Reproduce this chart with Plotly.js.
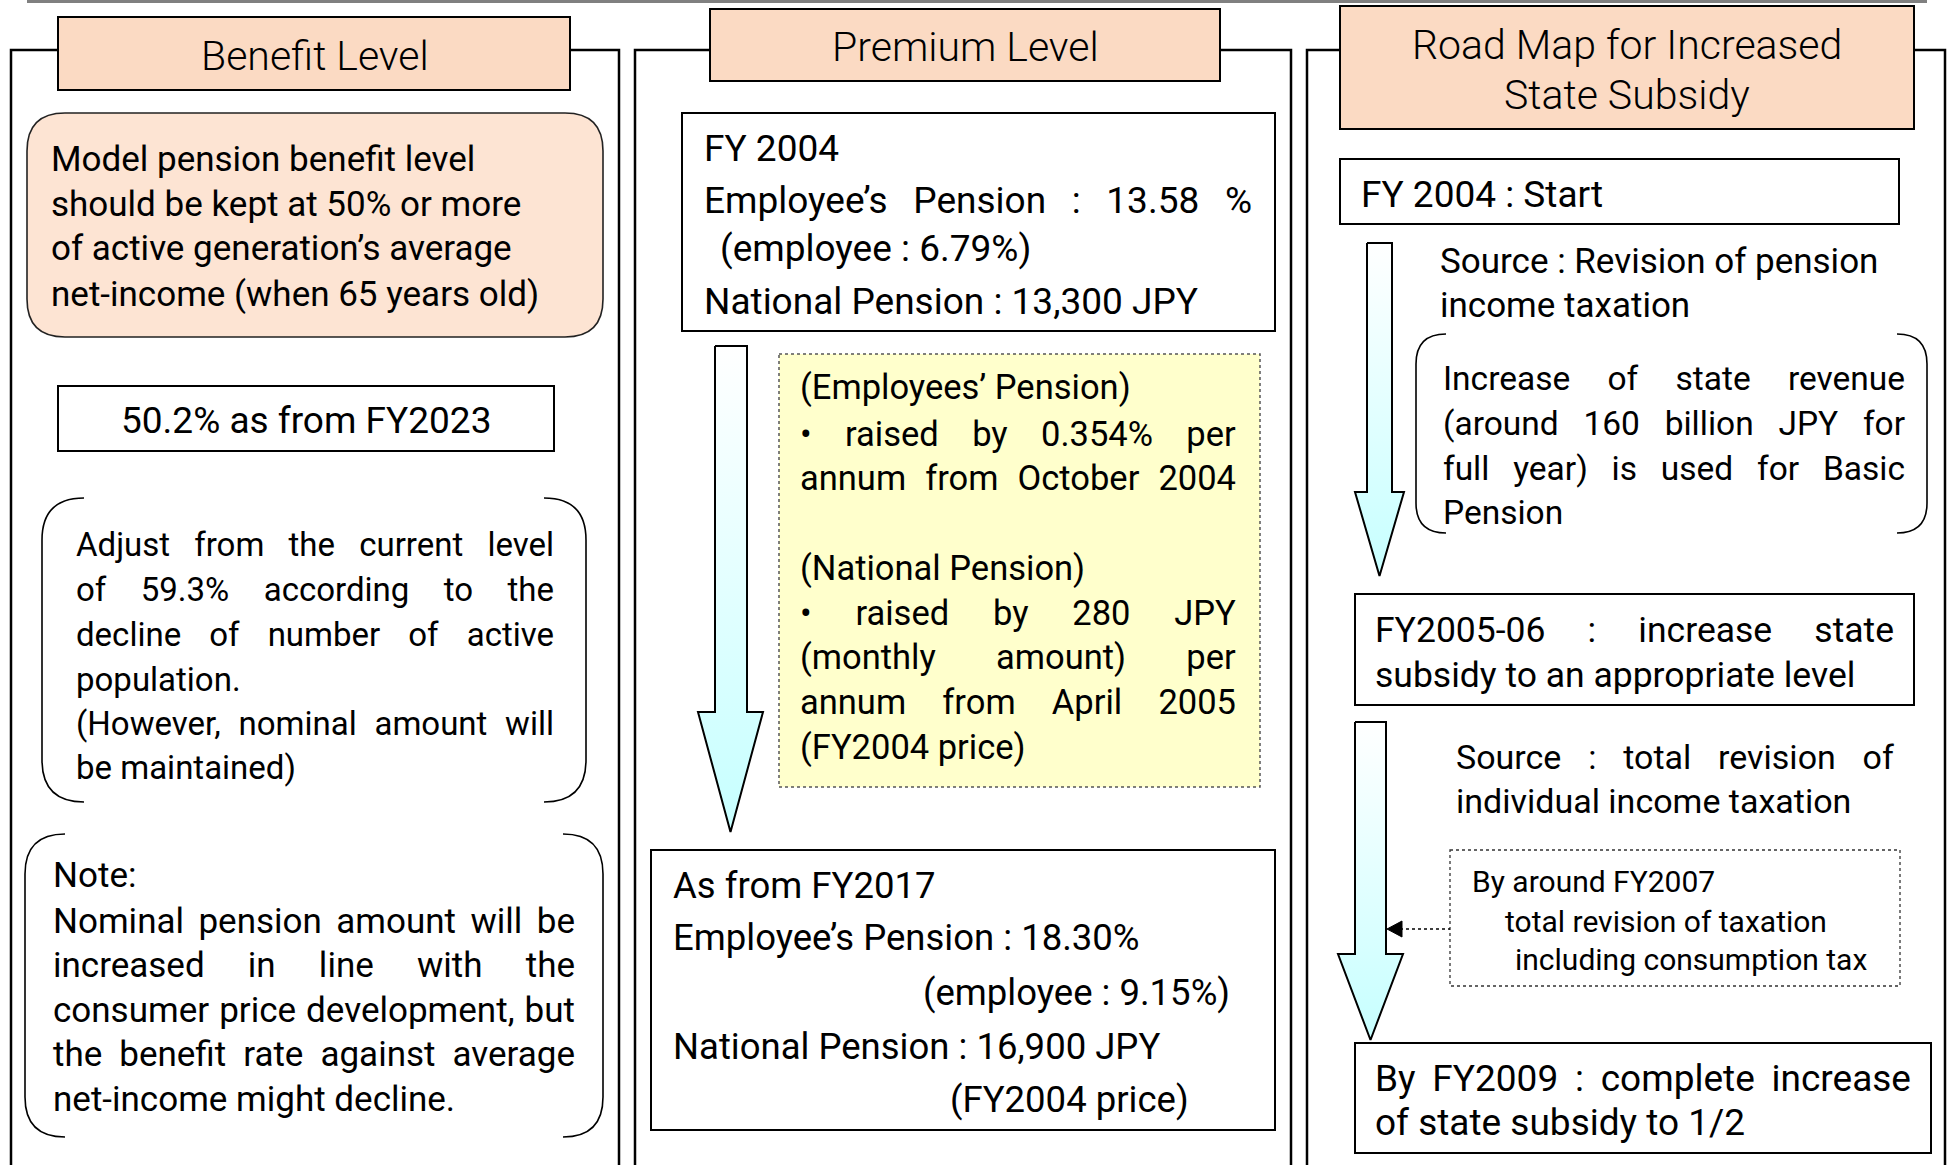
<!DOCTYPE html>
<html><head><meta charset="utf-8">
<script src="https://cdn.plot.ly/plotly-3.0.1.min.js"></script>
<style>html,body{margin:0;padding:0;background:#fff;}#chart{width:1952px;height:1165px;}</style>
</head><body><div id="chart"></div>
<script>
// ---- Text content ----
const columnTitles = ["Benefit Level", "Premium Level", "Road Map for Increased", "State Subsidy"];
const benefitGoal = ["Model pension benefit level", "should be kept at 50% or more", "of active generation’s average", "net-income (when 65 years old)"];
const benefitTarget = ["50.2% as from FY2023"];
const benefitAdjust = ["Adjust from the current level", "of 59.3% according to the", "decline of number of active", "population.", "(However, nominal amount will", "be maintained)"];
const benefitNote = ["Note:", "Nominal pension amount will be", "increased in line with the", "consumer price development, but", "the benefit rate against average", "net-income might decline."];
const premium2004 = ["FY 2004", "Employee’s Pension : 13.58 %", "(employee : 6.79%)", "National Pension : 13,300 JPY"];
const premiumSteps = ["(Employees’ Pension)", "• raised by 0.354% per", "annum from October 2004", "(National Pension)", "• raised by 280 JPY", "(monthly amount) per", "annum from April 2005", "(FY2004 price)"];
const premium2017 = ["As from FY2017", "Employee’s Pension : 18.30%", "(employee : 9.15%)", "National Pension : 16,900 JPY", "(FY2004 price)"];
const roadStart = ["FY 2004 : Start"];
const roadSource1 = ["Source : Revision of pension", "income taxation"];
const roadRevenue = ["Increase of state revenue", "(around 160 billion JPY for", "full year) is used for Basic", "Pension"];
const road0506 = ["FY2005-06 : increase state", "subsidy to an appropriate level"];
const roadSource2 = ["Source : total revision of", "individual income taxation"];
const roadTax = ["By around FY2007", "total revision of taxation", "including consumption tax"];
const road2009 = ["By FY2009 : complete increase", "of state subsidy to 1/2"];

// ---- Layout geometry (pixel space) ----
const FONT = 'Roboto, "Liberation Sans", sans-serif';
const PEACH = '#FBDAC3', PEACH2 = '#FDE4D3', YELLOW = '#FFFFCC';

const shapes = [];
const annotations = [];
const justify = []; // {idx, right}

function rect(x0, y0, x1, y1, fill, lw, dash, color) {
  shapes.push({type: 'rect', xref: 'x', yref: 'y', x0, y0, x1, y1, fillcolor: fill || 'rgba(0,0,0,0)',
    line: {color: color || '#000', width: lw == null ? 2 : lw, dash: dash || 'solid'}, layer: 'below'});
}
function path(p, fill, lw, dash, color) {
  shapes.push({type: 'path', xref: 'x', yref: 'y', path: p, fillcolor: fill || 'rgba(0,0,0,0)',
    line: {color: color || '#000', width: lw == null ? 2 : lw, dash: dash || 'solid'}, layer: 'below'});
}
function rrect(x0, y0, x1, y1, r, fill, lw, color) {
  path(`M ${x0 + r},${y0} L ${x1 - r},${y0} Q ${x1},${y0} ${x1},${y0 + r} L ${x1},${y1 - r} Q ${x1},${y1} ${x1 - r},${y1} L ${x0 + r},${y1} Q ${x0},${y1} ${x0},${y1 - r} L ${x0},${y0 + r} Q ${x0},${y0} ${x0 + r},${y0} Z`, fill, lw, 'solid', color);
}
function bracket(x0, y0, x1, y1, r) {
  path(`M ${x0 + r},${y0} Q ${x0},${y0} ${x0},${y0 + r} L ${x0},${y1 - r} Q ${x0},${y1} ${x0 + r},${y1}`, null, 1.6);
  path(`M ${x1 - r},${y0} Q ${x1},${y0} ${x1},${y0 + r} L ${x1},${y1 - r} Q ${x1},${y1} ${x1 - r},${y1}`, null, 1.6);
}
function frame(x0, x1, y0) {
  path(`M ${x0},1175 L ${x0},${y0} L ${x1},${y0} L ${x1},1175`, null, 2.5);
}
function txt(text, x, y, size, xanchor, right, weight) {
  annotations.push({text, x, y, xref: 'x', yref: 'y', xanchor: xanchor || 'left', yanchor: 'middle',
    align: xanchor === 'center' ? 'center' : (xanchor === 'right' ? 'right' : 'left'),
    showarrow: false, font: {family: FONT, size: size, color: '#000', weight: weight || 400}});
  if (right) justify.push({idx: annotations.length - 1, right});
}
function lines(arr, x, ys, size, justMap) {
  arr.forEach((t, i) => txt(t, x, ys[i], size, 'left', justMap && justMap[i]));
}

// top rule
shapes.push({type: 'line', xref: 'x', yref: 'y', x0: 27, x1: 1927, y0: 1.5, y1: 1.5, line: {color: '#808080', width: 3}, layer: 'below'});

// Column frames
frame(11, 619, 50);
frame(635, 1291, 50);
frame(1307, 1945, 50);

// Title boxes
rect(58, 17, 570, 90, PEACH, 2);
rect(710, 9, 1220, 81, PEACH, 2);
rect(1340, 6, 1914, 129, PEACH, 2);
txt(columnTitles[0], 315, 56, 41, 'center', null, 300);
txt(columnTitles[1], 965, 47, 41, 'center', null, 300);
txt(columnTitles[2], 1627, 45, 41, 'center', null, 300);
txt(columnTitles[3], 1627, 95, 41, 'center', null, 300);

// Column 1
rrect(27, 113, 603, 337, 38, PEACH2, 1.6, '#222');
lines(benefitGoal, 49, [159, 204, 248, 294], 35);
rect(58, 386, 554, 451, '#fff', 2);
txt(benefitTarget[0], 306, 420, 37, 'center');
bracket(42, 498, 586, 802, 42);
lines(benefitAdjust, 74, [544, 589, 634, 679, 723, 767], 33, {0: 554, 1: 554, 2: 554, 4: 554});
bracket(25, 834, 603, 1137, 40);
lines(benefitNote, 51, [875, 921, 965, 1010, 1054, 1099], 35, {1: 575, 2: 575, 3: 575, 4: 575});

// Column 2
rect(682, 113, 1275, 331, '#fff', 2);
txt(premium2004[0], 702, 148, 37);
txt(premium2004[1], 702, 200, 37, 'left', 1252);
txt(premium2004[2], 718, 248, 37);
txt(premium2004[3], 702, 301, 37);
rect(779, 354, 1260, 787, YELLOW, 1.5, 'dot', '#555');
lines(premiumSteps, 798, [387, 434, 478, 568, 613, 657, 702, 747], 34.5, {1: 1236, 2: 1236, 4: 1236, 5: 1236, 6: 1236});
rect(651, 850, 1275, 1130, '#fff', 2);
txt(premium2017[0], 671, 885, 36.5);
txt(premium2017[1], 671, 937, 36.5);
txt(premium2017[2], 1232, 992, 36.5, 'right');
txt(premium2017[3], 671, 1046, 36.5);
txt(premium2017[4], 1191, 1099, 36.5, 'right');

// Column 3
rect(1340, 159, 1899, 224, '#fff', 2);
txt(roadStart[0], 1359, 194, 37);
lines(roadSource1, 1438, [261, 305], 35);
bracket(1416, 334, 1927, 533, 30);
lines(roadRevenue, 1441, [378, 423, 468, 512], 33.5, {0: 1905, 1: 1905, 2: 1905});
rect(1355, 594, 1914, 705, '#fff', 2);
lines(road0506, 1373, [630, 675], 35.5, {0: 1894});
lines(roadSource2, 1454, [757, 801], 34, {0: 1894});
rect(1450, 850, 1900, 986, '#fff', 1.3, 'dot', '#333');
txt(roadTax[0], 1470, 881, 30);
txt(roadTax[1], 1503, 921, 30);
txt(roadTax[2], 1513, 959, 30);
shapes.push({type: 'line', xref: 'x', yref: 'y', x0: 1400, x1: 1450, y0: 929, y1: 929, line: {color: '#000', width: 1.5, dash: 'dot'}, layer: 'above'});
shapes.push({type: 'path', xref: 'x', yref: 'y', path: 'M 1387,929 L 1402,921 L 1402,937 Z', fillcolor: '#000', line: {color: '#000', width: 1}, layer: 'above'});
rect(1355, 1043, 1931, 1153, '#fff', 2);
lines(road2009, 1373, [1078, 1122], 37, {0: 1911});

// Block arrows (gradient filled)
const arrowSpecs = [
  {x0: 715, x1: 747, yt: 346, yh: 712, hl: 698, hr: 763, yb: 832},
  {x0: 1367, x1: 1392, yt: 243, yh: 492, hl: 1355, hr: 1404, yb: 576},
  {x0: 1355, x1: 1386, yt: 722, yh: 954, hl: 1338, hr: 1403, yb: 1040}
];
const traces = arrowSpecs.map(a => {
  const tx = (a.hl + a.hr) / 2;
  return {
    type: 'scatter', mode: 'lines', hoverinfo: 'skip', showlegend: false,
    x: [a.x0, a.x1, a.x1, a.hr, tx, a.hl, a.x0, a.x0],
    y: [a.yt, a.yt, a.yh, a.yh, a.yb, a.yh, a.yh, a.yt],
    fill: 'toself',
    fillgradient: {type: 'vertical', colorscale: [[0, '#ffffff'], [1, '#c6ffff']], start: a.yt, stop: a.yb},
    line: {color: '#000', width: 2}
  };
});

const layout = {
  width: 1952, height: 1165, margin: {l: 0, r: 0, t: 0, b: 0},
  paper_bgcolor: '#fff', plot_bgcolor: '#fff',
  xaxis: {range: [0, 1952], visible: false, fixedrange: true},
  yaxis: {range: [1165, 0], visible: false, fixedrange: true},
  shapes, annotations, showlegend: false
};

Plotly.newPlot('chart', traces, layout, {displayModeBar: false, staticPlot: true}).then(gd => {
  justify.forEach(j => {
    const t = gd.querySelector('.annotation[data-index="' + j.idx + '"] text.annotation-text');
    if (!t) return;
    const n = (t.textContent.match(/ /g) || []).length;
    if (!n) return;
    const r = t.getBoundingClientRect();
    const extra = j.right - r.right;
    if (extra > 0) t.style.wordSpacing = (extra / n) + 'px';
  });
});
</script>
</body></html>
